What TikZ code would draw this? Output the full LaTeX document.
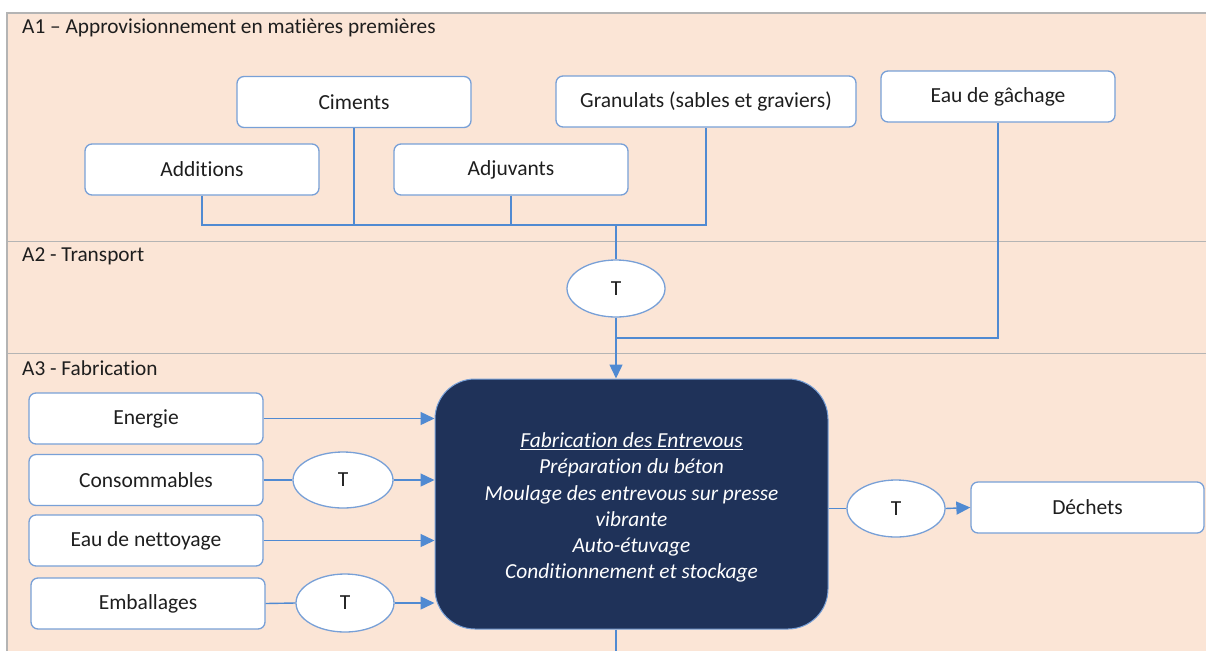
\documentclass[tikz,border=0pt]{standalone}
\usepackage{fontspec}
\setmainfont{Carlito}[Ligatures={NoCommon,NoRequired,NoContextual}]
\usetikzlibrary{arrows.meta,shapes.geometric}
\definecolor{peach}{RGB}{251,229,214}
\definecolor{sepgray}{RGB}{180,180,180}
\definecolor{boxline}{RGB}{120,160,215}
\definecolor{conn}{RGB}{80,138,210}
\definecolor{navy}{RGB}{31,50,89}
\definecolor{txt}{RGB}{30,30,30}
\begin{document}
\begin{tikzpicture}[x=1pt,y=-1pt,
  box/.style={draw=boxline, line width=1.3pt, fill=white, rounded corners=7pt,
    minimum width=234pt, minimum height=51pt, inner sep=0pt,
    font=\fontsize{21.5}{25}\selectfont, text=txt},
  tnode/.style={ellipse, draw=boxline, fill=white, line width=1.3pt,
    minimum width=98pt, minimum height=57pt, inner sep=0pt,
    font=\fontsize{21.5}{25}\selectfont, text=txt},
  lab/.style={anchor=west, inner sep=0pt, font=\fontsize{21.3}{25}\selectfont, text=txt},
  conline/.style={draw=conn, line width=1.4pt},
  arr/.style={conline, -{Triangle[length=14pt,width=13pt]}},
  mainbox/.style={draw=boxline, line width=1pt, fill=navy, rounded corners=40pt,
    minimum width=393pt, minimum height=250pt, inner sep=0pt,
    text=white, align=center, font=\fontsize{21.4}{26.2}\selectfont\itshape}
]
\useasboundingbox (0,0) rectangle (1206,651);
\fill[white] (0,0) rectangle (1206,651);
\fill[peach] (7,13) rectangle (1206,651);
\draw[sepgray, line width=1.2pt] (7,651) -- (7,13) -- (1206,13);
\draw[sepgray, line width=1pt] (7,241) -- (1206,241);
\draw[sepgray, line width=1pt] (7,353) -- (1206,353);

\node[lab] (la1) at (22,28) {A1 – Approvisionnement en matières premières};
\node[lab] (la2) at (22,256) {A2 - Transport};
\node[lab] (la3) at (22,368) {A3 - Fabrication};

\node[box] (ciments) at (354,102) {Ciments};
\node[box] (additions) at (202,169.5) {Additions};
\node[box] (adjuvants) at (511,169.5) {Adjuvants};
\node[box, minimum width=300pt] (granulats) at (706,101.5) {Granulats (sables et graviers)};
\node[box] (eau) at (998,96.5) {Eau de gâchage};

\node[tnode] (t2) at (616,288.5) {T};

\node[mainbox] (main) at (631.5,504) {\rule{0pt}{22pt}\underline{Fabrication des Entrevous}\\Préparation du béton\\Moulage des entrevous sur presse\\vibrante\\Auto-étuvage\\Conditionnement et stockage};

\node[box] (energie) at (146,418.5) {Energie};
\node[box] (conso) at (146,480) {Consommables};
\node[box] (nett) at (146,540.5) {Eau de nettoyage};
\node[box] (emb) at (148,603.5) {Emballages};
\node[tnode, minimum width=100pt, minimum height=56pt] (t3) at (343,480) {T};
\node[tnode, minimum height=58pt] (t4) at (345,603) {T};
\node[tnode] (t5) at (896,508.5) {T};
\node[box, minimum width=233pt] (dechets) at (1087.5,507.5) {Déchets};

\coordinate (bus) at (0,225);
\coordinate (join) at (0,338);
\coordinate (bottom) at (0,651);

\draw[conline] (additions.south) -- (additions.south |- bus) -- (granulats.south |- bus) -- (granulats.south);
\draw[conline] (ciments.south) -- (ciments.south |- bus);
\draw[conline] (adjuvants.south) -- (adjuvants.south |- bus);
\draw[conline] (t2.north |- bus) -- (t2.north);
\draw[conline] (eau.south) |- (t2.south |- join);
\draw[arr] (t2.south) -- (t2.south |- main.north);

\draw[arr] (energie.east) -- (energie.east -| main.west);
\draw[conline] (conso.east) -- (t3.west);
\draw[arr] (t3.east) -- (t3.east -| main.west);
\draw[arr] (nett.east) -- (nett.east -| main.west);
\draw[conline] (emb.east) -- (t4.west);
\draw[arr] (t4.east) -- (t4.east -| main.west);

\draw[conline] (main.east |- t5.west) -- (t5.west);
\draw[arr] (t5.east) -- (dechets.west);
\draw[conline] (t2.south |- main.south) -- (t2.south |- bottom);
\end{tikzpicture}
\end{document}
